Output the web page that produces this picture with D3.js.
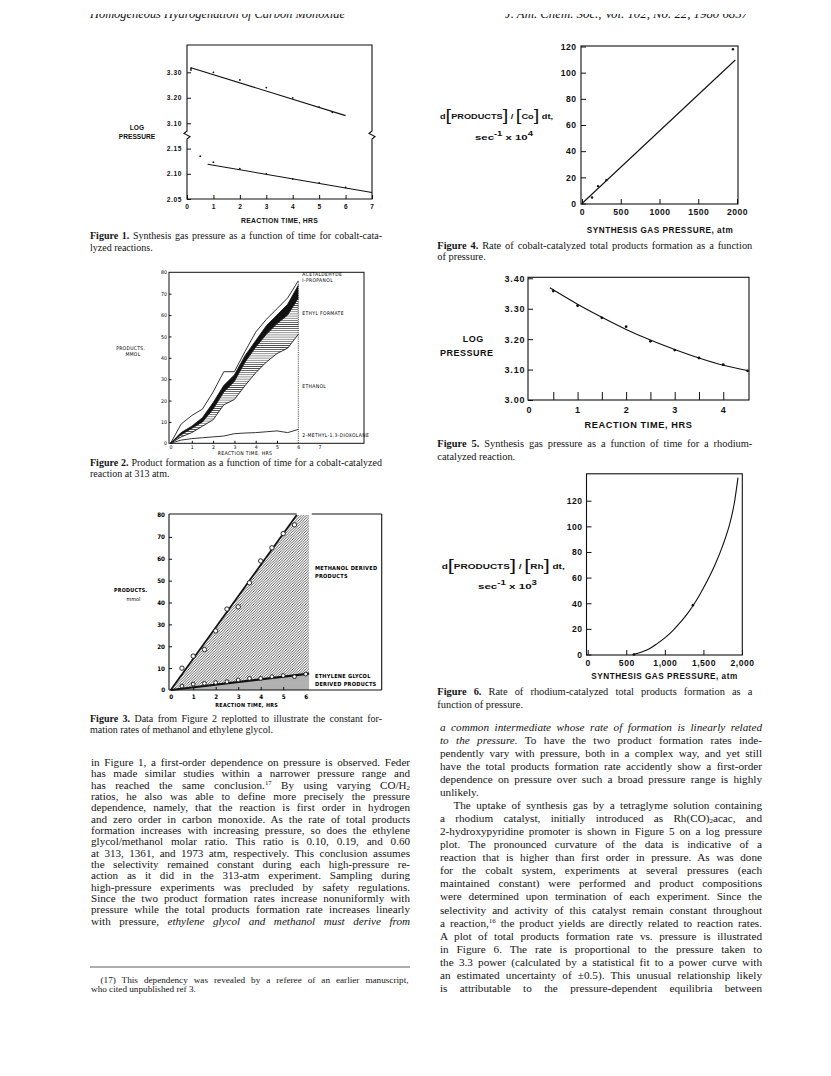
<!DOCTYPE html>
<html>
<head>
<meta charset="utf-8">
<script src="https://cdn.jsdelivr.net/npm/d3@7"></script>
<style>
  body { margin: 0; background: #fff; }
  svg { display: block; }
  .ax { font-family: "Liberation Sans", Arial, sans-serif; font-weight: bold; fill: #111; }
  .cond { font-family: "DejaVu Sans Condensed", "Liberation Sans Narrow", sans-serif; font-stretch: condensed; fill: #000; }
  .condb { font-family: "DejaVu Sans Condensed", "Liberation Sans Narrow", sans-serif; font-stretch: condensed; font-weight: bold; fill: #000; }
  .serif { font-family: "Liberation Serif", "Times New Roman", serif; fill: #141414; }
</style>
</head>
<body>
<svg id="page" width="831" height="1076"></svg>
<script>
// ---------- DATA ----------

// Figure 1: cobalt runs, log pressure vs reaction time (broken axis)
const fig1HighHours = [0.15, 0.15, 1, 2, 3, 4, 5, 5.5];
const fig1HighLogP = [3.316, 3.309, 3.300, 3.270, 3.240, 3.200, 3.163, 3.143];
const fig1HighFitHours = [0.15, 6];
const fig1HighFitLogP = [3.318, 3.130];
const fig1LowHours = [0.5, 1, 2, 3, 4, 5, 6];
const fig1LowLogP = [2.135, 2.123, 2.110, 2.100, 2.090, 2.082, 2.073];
const fig1LowFitHours = [0.78, 7];
const fig1LowFitLogP = [2.119, 2.063];
const fig1HourTicks = [0, 1, 2, 3, 4, 5, 6, 7];
const fig1HighTicks = [3.10, 3.20, 3.30];
const fig1LowTicks = [2.05, 2.10, 2.15];

// Figure 2: cumulative products, mmol (each series is the top of its band)
const fig2Hours = [0, 0.5, 1, 1.5, 2, 2.5, 3, 3.5, 4, 4.5, 5, 5.5, 6];
const fig2Dioxolane = [0, 1.5, 2.2, 2.6, 3, 3.4, 4.5, 4.8, 5, 5.4, 5.8, 5, 6.5];
const fig2Ethanol = [0, 3, 5, 8, 11, 18, 20.5, 27, 33, 38, 42, 44.5, 51];
const fig2EthylFormate = [0, 4, 7, 10, 16, 24, 29, 38, 45, 51, 56, 60, 68];
const fig2Propanol = [0, 5, 8, 12, 19, 27, 32, 41, 48, 55, 60, 65, 74];
const fig2Acetaldehyde = [0, 9, 13, 16, 24, 33.5, 33.5, 43, 52, 58, 63, 68, 76];
const fig2HourTicks = [0, 1, 2, 3, 4, 5, 6, 7];
const fig2MmolTicks = [0, 10, 20, 30, 40, 50, 60, 70, 80];
const fig2Labels = ["ACETALDEHYDE", "I-PROPANOL", "ETHYL FORMATE", "ETHANOL", "2-METHYL-1,3-DIOXOLANE"];
const fig2LabelMmol = [79, 76.3, 61, 26.5, 3.8];

// Figure 3: methanol- and ethylene glycol-derived products, mmol
const fig3Hours = [0.5, 1, 1.5, 2, 2.5, 3, 3.5, 4, 4.5, 5, 5.5];
const fig3Methanol = [10, 15.5, 18.5, 27, 37, 38, 49, 59, 65, 71.5, 75.5];
const fig3GlycolHours = [0.5, 1, 1.5, 2, 2.5, 3, 3.5, 4, 4.5, 5, 5.5, 6];
const fig3Glycol = [1.8, 2.7, 3, 3.4, 3.8, 4.6, 5.3, 5.3, 6.1, 6.6, 6.1, 7.3];
const fig3MethanolFit = [[0, 0], [5.6, 80]];
const fig3GlycolFit = [[0, 0], [6.15, 7.5]];
const fig3HourTicks = [0, 1, 2, 3, 4, 5, 6];
const fig3MmolTicks = [0, 10, 20, 30, 40, 50, 60, 70, 80];

// Figure 4: cobalt rate vs synthesis gas pressure
const fig4Pressure = [130, 206, 314, 1948];
const fig4Rate = [4.6, 13.3, 17.9, 117.9];
const fig4FitPressure = [0, 1978];
const fig4FitRate = [0, 109.7];
const fig4PressureTicks = [0, 500, 1000, 1500, 2000];
const fig4RateTicks = [0, 20, 40, 60, 80, 100, 120];

// Figure 5: rhodium run, log pressure vs reaction time
const fig5Hours = [0.5, 1, 1.5, 2, 2.5, 3, 3.5, 4, 4.5];
const fig5LogP = [3.358, 3.310, 3.270, 3.241, 3.193, 3.164, 3.138, 3.116, 3.096];
const fig5CurveHours = [0.43, 1, 1.5, 2, 2.5, 3, 3.5, 4, 4.5];
const fig5CurveLogP = [3.369, 3.315, 3.272, 3.232, 3.197, 3.166, 3.138, 3.114, 3.097];
const fig5HourTicks = [0, 1, 2, 3, 4];
const fig5HalfHourTicks = [0.5, 1, 1.5, 2, 2.5, 3, 3.5, 4];
const fig5LogTicks = [3.00, 3.10, 3.20, 3.30, 3.40];

// Figure 6: rhodium rate vs synthesis gas pressure
const fig6Pressure = [600, 1364];
const fig6Rate = [0, 38.5];
const fig6CurvePressure = [580, 700, 800, 900, 1000, 1100, 1200, 1300, 1364, 1450, 1550, 1650, 1750, 1850, 1900, 1948];
const fig6CurveRate = [0, 2, 4.5, 8.5, 13, 18.5, 25, 32.5, 38, 46.5, 57.5, 70, 85, 104, 118, 138];
const fig6PressureTicks = [0, 500, 1000, 1500, 2000];
const fig6RateTicks = [0, 20, 40, 60, 80, 100, 120];

// Page text
const headerLeft = "Homogeneous Hydrogenation of Carbon Monoxide";
const headerRight = "J. Am. Chem. Soc., Vol. 102, No. 22, 1980     6857";
const captions = {
  fig1: ["**Figure 1.** Synthesis gas pressure as a function of time for cobalt-cata-", "lyzed reactions."],
  fig2: ["**Figure 2.** Product formation as a function of time for a cobalt-catalyzed", "reaction at 313 atm."],
  fig3: ["**Figure 3.** Data from Figure 2 replotted to illustrate the constant for-", "mation rates of methanol and ethylene glycol."],
  fig4: ["**Figure 4.** Rate of cobalt-catalyzed total products formation as a function", "of pressure."],
  fig5: ["**Figure 5.** Synthesis gas pressure as a function of time for a rhodium-", "catalyzed reaction."],
  fig6: ["**Figure 6.** Rate of rhodium-catalyzed total products formation as a", "function of pressure."]
};
const leftBody = [
  "in Figure 1, a first-order dependence on pressure is observed. Feder",
  "has made similar studies within a narrower pressure range and",
  "has reached the same conclusion.^17^ By using varying CO/H_2_",
  "ratios, he also was able to define more precisely the pressure",
  "dependence, namely, that the reaction is first order in hydrogen",
  "and zero order in carbon monoxide. As the rate of total products",
  "formation increases with increasing pressure, so does the ethylene",
  "glycol/methanol molar ratio. This ratio is 0.10, 0.19, and 0.60",
  "at 313, 1361, and 1973 atm, respectively. This conclusion assumes",
  "the selectivity remained constant during each high-pressure re-",
  "action as it did in the 313-atm experiment. Sampling during",
  "high-pressure experiments was precluded by safety regulations.",
  "Since the two product formation rates increase nonuniformly with",
  "pressure while the total products formation rate increases linearly",
  "with pressure, *ethylene glycol and methanol must derive from*"
];
const footnote = [
  "(17) This dependency was revealed by a referee of an earlier manuscript,",
  "who cited unpublished ref 3."
];
// "~" marks a paragraph indent, "|" marks a paragraph's last (unjustified) line
const rightBody = [
  "*a common intermediate whose rate of formation is linearly related*",
  "*to the pressure.* To have the two product formation rates inde-",
  "pendently vary with pressure, both in a complex way, and yet still",
  "have the total products formation rate accidently show a first-order",
  "dependence on pressure over such a broad pressure range is highly",
  "|unlikely.",
  "~The uptake of synthesis gas by a tetraglyme solution containing",
  "a rhodium catalyst, initially introduced as Rh(CO)_2_acac, and",
  "2-hydroxypyridine promoter is shown in Figure 5 on a log pressure",
  "plot. The pronounced curvature of the data is indicative of a",
  "reaction that is higher than first order in pressure. As was done",
  "for the cobalt system, experiments at several pressures (each",
  "maintained constant) were performed and product compositions",
  "were determined upon termination of each experiment. Since the",
  "selectivity and activity of this catalyst remain constant throughout",
  "a reaction,^16^ the product yields are directly related to reaction rates.",
  "A plot of total products formation rate vs. pressure is illustrated",
  "in Figure 6. The rate is proportional to the pressure taken to",
  "the 3.3 power (calculated by a statistical fit to a power curve with",
  "an estimated uncertainty of ±0.5). This unusual relationship likely",
  "is attributable to the pressure-dependent equilibria between"
];


// ---------- PAGE ----------
const svg = d3.select("#page");
svg.append("rect").attr("width", 831).attr("height", 1076).attr("fill", "#fff");
const defs = svg.append("defs");

// hatch patterns used by figures 2 and 3
const hatchH = (id, size, sw, color) => {
  const p = defs.append("pattern").attr("id", id).attr("patternUnits", "userSpaceOnUse")
    .attr("width", 4).attr("height", size);
  p.append("line").attr("x1", 0).attr("y1", size / 2).attr("x2", 4).attr("y2", size / 2)
    .attr("stroke", color).attr("stroke-width", sw);
};
const hatchDiag = (id, size, sw, color) => {
  const s = size;
  const p = defs.append("pattern").attr("id", id).attr("patternUnits", "userSpaceOnUse")
    .attr("width", s).attr("height", s);
  p.append("path").attr("d", `M0,${s}L${s},0M${-s / 4},${s / 4}L${s / 4},${-s / 4}M${s * 0.75},${s * 1.25}L${s * 1.25},${s * 0.75}`)
    .attr("stroke", color).attr("stroke-width", sw).attr("stroke-linecap", "square");
};
hatchH("hzFormate", 2.1, 0.65, "#111");
hatchDiag("diagMeoh", 2.6, 0.75, "#2a2a2a");
hatchH("hzGlycol", 1.7, 0.65, "#222");

const ink = "#111";

const styleAxis = (g, size, cls) => {
  g.select(".domain").remove();
  g.attr("font-family", null).attr("font-size", null);
  g.selectAll("text").attr("class", cls).attr("font-size", size).attr("fill", ink);
  g.selectAll("line").attr("stroke", ink).attr("stroke-width", 1);
};

const label = (g, x, y, txt, size, cls, anchor = "middle") =>
  g.append("text").attr("class", cls).attr("x", x).attr("y", y)
    .attr("font-size", size).attr("text-anchor", anchor).text(txt);

const box = (g, x0, y0, x1, y1, sw = 1.1) =>
  g.append("rect").attr("x", x0).attr("y", y0).attr("width", x1 - x0).attr("height", y1 - y0)
    .attr("fill", "none").attr("stroke", ink).attr("stroke-width", sw);

const hline = (g, x0, x1, y, sw = 1.1) =>
  g.append("line").attr("x1", x0).attr("x2", x1).attr("y1", y).attr("y2", y).attr("stroke", ink).attr("stroke-width", sw);
const vline = (g, x, y0, y1, sw = 1.1) =>
  g.append("line").attr("x1", x).attr("x2", x).attr("y1", y0).attr("y2", y1).attr("stroke", ink).attr("stroke-width", sw);

const zip = (a, b) => a.map((d, i) => [d, b[i]]);
const intFmt = d3.format("d");


// ---------- TEXT HELPERS ----------
const parseRuns = (str) => str.split(/(\*\*[^*]+\*\*|\*[^*]+\*|\^[^^]+\^|_[^_]+_)/)
  .filter(s => s)
  .map(s => {
    if (s.startsWith("**")) return { t: s.slice(2, -2), b: true };
    if (s.startsWith("*")) return { t: s.slice(1, -1), i: true };
    if (s.startsWith("^")) return { t: s.slice(1, -1), sup: true };
    if (s.startsWith("_")) return { t: s.slice(1, -1), sub: true };
    return { t: s };
  });

const writeLine = (g, x, y, width, str, size, justify) => {
  const t = g.append("text").attr("class", "serif").attr("x", x).attr("y", y)
    .attr("font-size", size).attr("xml:space", "preserve");
  let shift = 0;
  const runs = parseRuns(str);
  runs.forEach(r => {
    const s = t.append("tspan").text(r.t);
    const target = r.sup ? -size * 0.34 : r.sub ? size * 0.1 : 0;
    if (target !== shift) { s.attr("dy", target - shift); shift = target; }
    if (r.sup || r.sub) s.attr("font-size", size * 0.62);
    if (r.i) s.attr("font-style", "italic");
    if (r.b) s.attr("font-weight", "bold");
  });
  if (justify) {
    const natural = t.node().getComputedTextLength();
    const spaces = (runs.map(r => r.t).join("").match(/ /g) || []).length;
    if (natural > width) {
      t.attr("textLength", width).attr("lengthAdjust", "spacingAndGlyphs");
    } else if (spaces) {
      t.attr("word-spacing", (width - natural) / spaces);
    }
  }
  return t;
};

const writeBlock = (g, lines, x, y0, step, width, size, justifyLast) => {
  lines.forEach((raw, i) => {
    let s = raw, dx = 0, just = true;
    if (s.startsWith("~")) { s = s.slice(1); dx = size * 1.2; }
    if (s.startsWith("|")) { s = s.slice(1); just = false; }
    if (i === lines.length - 1 && !justifyLast) just = false;
    writeLine(g, x + dx, y0 + i * step, width - dx, s, size, just);
  });
};

// header strip: only the lower part of the running heads survives the crop
const headClip = defs.append("clipPath").attr("id", "headClip");
headClip.append("rect").attr("x", 0).attr("y", 14).attr("width", 831).attr("height", 10);
const head = svg.append("g").attr("clip-path", "url(#headClip)");
head.append("text").attr("class", "serif").attr("x", 90).attr("y", 18.2).attr("font-size", 11.5)
  .attr("font-style", "italic").attr("textLength", 255).attr("lengthAdjust", "spacingAndGlyphs").text(headerLeft);
head.append("text").attr("class", "serif").attr("x", 505).attr("y", 18.2).attr("font-size", 11.5)
  .attr("font-style", "italic").attr("textLength", 243).attr("lengthAdjust", "spacingAndGlyphs").text(headerRight);


// ---------- F1: Figure 1 ----------
const drawFig1 = () => {
  const g = svg.append("g");
  const x = d3.scaleLinear().domain([0, 7]).range([187, 372]);
  const yHi = d3.scaleLinear().domain([3.05, 3.30]).range([136, 72.3]);
  const yLo = d3.scaleLinear().domain([2.05, 2.175]).range([199, 136]);
  const [L, R] = x.range(), B = yLo(2.05), T = 45, brk = yLo(2.175);

  // frame with zig-zag breaks on both vertical axes
  g.append("path")
    .attr("d", `M${L},${T}V${brk - 5}l-3,2.5l6,3l-3,2.5V${B}H${R}V${brk + 3}l3,-2.5l-6,-3l3,-2.5V${T}Z`)
    .attr("fill", "none").attr("stroke", ink).attr("stroke-width", 1.1);

  g.append("g").attr("transform", `translate(0,${B})`)
    .call(d3.axisBottom(x).tickValues(fig1HourTicks).tickSize(-4).tickPadding(5).tickFormat(intFmt))
    .call(a => styleAxis(a, 6.6, "ax"));
  g.append("g").attr("transform", `translate(${L},0)`)
    .call(d3.axisLeft(yHi).tickValues(fig1HighTicks).tickSize(-4).tickPadding(5).tickFormat(d3.format(".2f")))
    .call(a => styleAxis(a, 6.6, "ax"));
  g.append("g").attr("transform", `translate(${L},0)`)
    .call(d3.axisLeft(yLo).tickValues(fig1LowTicks).tickSize(-4).tickPadding(5).tickFormat(d3.format(".2f")))
    .call(a => styleAxis(a, 6.6, "ax"));
  g.selectAll(".tick text").attr("letter-spacing", 0.6);

  const lineHi = d3.line().x(d => x(d[0])).y(d => yHi(d[1]));
  const lineLo = d3.line().x(d => x(d[0])).y(d => yLo(d[1]));
  g.append("path").attr("d", lineHi(zip(fig1HighFitHours, fig1HighFitLogP)))
    .attr("stroke", ink).attr("stroke-width", 1.1).attr("fill", "none");
  g.append("path").attr("d", lineLo(zip(fig1LowFitHours, fig1LowFitLogP)))
    .attr("stroke", ink).attr("stroke-width", 1.1).attr("fill", "none");
  g.selectAll(".hi").data(zip(fig1HighHours, fig1HighLogP)).enter().append("circle")
    .attr("cx", d => x(d[0])).attr("cy", d => yHi(d[1])).attr("r", 0.9).attr("fill", ink);
  g.selectAll(".lo").data(zip(fig1LowHours, fig1LowLogP)).enter().append("circle")
    .attr("cx", d => x(d[0])).attr("cy", d => yLo(d[1])).attr("r", 0.9).attr("fill", ink);

  label(g, 137, 129.8, "LOG", 6.6, "ax");
  label(g, 137, 138.5, "PRESSURE", 6.6, "ax");
  label(g, 279.5, 223.2, "REACTION TIME, HRS", 6.8, "ax").attr("letter-spacing", 0.3);
};


// ---------- F2: Figure 2 ----------
const drawFig2 = () => {
  const g = svg.append("g");
  const x = d3.scaleLinear().domain([0, 7]).range([170.5, 319.6]);
  const y = d3.scaleLinear().domain([0, 80]).range([443.3, 272.3]);
  const L = 169, R = 364, T = 272.3, B = 443.3;

  const band = (lo, hi) => d3.area().x((d, i) => x(fig2Hours[i])).y0((d, i) => y(lo[i])).y1((d, i) => y(hi[i]))(fig2Hours);
  g.append("path").attr("d", band(fig2Ethanol, fig2EthylFormate)).attr("fill", "url(#hzFormate)");
  g.append("path").attr("d", band(fig2EthylFormate, fig2Propanol)).attr("fill", "#111");

  const line = d3.line().x((d, i) => x(fig2Hours[i])).y(d => y(d));
  [fig2Dioxolane, fig2Ethanol, fig2EthylFormate, fig2Propanol, fig2Acetaldehyde].forEach(s => {
    g.append("path").attr("d", line(s)).attr("fill", "none").attr("stroke", ink).attr("stroke-width", 0.85);
  });
  // dotted end-of-run marker at 6 h
  g.append("line").attr("x1", x(6)).attr("x2", x(6)).attr("y1", y(0)).attr("y2", y(fig2Acetaldehyde[fig2Acetaldehyde.length - 1]))
    .attr("stroke", ink).attr("stroke-width", 0.7).attr("stroke-dasharray", "1.2,1");

  box(g, L, T, R, B, 1);

  g.append("g").attr("transform", `translate(0,${B})`)
    .call(d3.axisBottom(x).tickValues(fig2HourTicks).tickSize(0).tickPadding(1.8).tickFormat(intFmt))
    .call(a => styleAxis(a, 5.2, "cond"));
  g.append("g").attr("transform", `translate(0,${B})`)
    .call(d3.axisBottom(x).tickValues(fig2HourTicks.slice(1, 6)).tickSize(-2.5).tickFormat(""))
    .call(a => styleAxis(a, 5.2, "cond"));
  g.append("g").attr("transform", `translate(${L},0)`)
    .call(d3.axisLeft(y).tickValues(fig2MmolTicks).tickSize(0).tickPadding(2).tickFormat(intFmt))
    .call(a => styleAxis(a, 5.2, "cond"));
  g.append("g").attr("transform", `translate(${L},0)`)
    .call(d3.axisLeft(y).tickValues(fig2MmolTicks.slice(1, 8)).tickSize(-2.5).tickFormat(""))
    .call(a => styleAxis(a, 5.2, "cond"));

  fig2Labels.forEach((t, i) => label(g, 302.3, y(fig2LabelMmol[i]) + 1.8, t, 5, "cond", "start").attr("letter-spacing", 0.35));
  label(g, 130.7, 349.8, "PRODUCTS.", 5, "cond").attr("letter-spacing", 0.3);
  label(g, 133, 356, "MMOL", 5, "cond").attr("letter-spacing", 0.3);
  label(g, 245, 455, "REACTION TIME, HRS", 5.1, "cond").attr("letter-spacing", 0.35);
};


// ---------- F3: Figure 3 ----------
const drawFig3 = () => {
  const g = svg.append("g");
  const x = d3.scaleLinear().domain([0, 6]).range([170.7, 305.7]);
  const y = d3.scaleLinear().domain([0, 80]).range([690, 515]);
  const L = 169, T = 514, B = 690, boxL = 311.7, R = 381.7;
  const edge = fig3GlycolFit[1][0];
  const top = y.domain()[1];
  const line = d3.line().x(d => x(d[0])).y(d => y(d[1]));

  // hatched bands: methanol-derived above the glycol line, glycol-derived below it
  g.append("path").attr("d", line([fig3MethanolFit[0], fig3MethanolFit[1], [edge, top], fig3GlycolFit[1]]) + "Z")
    .attr("fill", "url(#diagMeoh)");
  g.append("path").attr("d", line([fig3GlycolFit[0], fig3GlycolFit[1], [edge, 0]]) + "Z")
    .attr("fill", "url(#hzGlycol)");

  vline(g, L, T, B);
  hline(g, L, x(fig3MethanolFit[1][0]), T);
  hline(g, L, R, B);
  hline(g, boxL, R, T);
  vline(g, R, T, B);

  g.append("path").attr("d", line(fig3MethanolFit)).attr("stroke", ink).attr("stroke-width", 1.7).attr("fill", "none");
  g.append("path").attr("d", line(fig3GlycolFit)).attr("stroke", ink).attr("stroke-width", 2.2).attr("fill", "none");

  g.selectAll(".meoh").data(zip(fig3Hours, fig3Methanol)).enter().append("circle")
    .attr("cx", d => x(d[0])).attr("cy", d => y(d[1])).attr("r", 2.2)
    .attr("fill", "#fff").attr("stroke", ink).attr("stroke-width", 0.9);
  g.selectAll(".eg").data(zip(fig3GlycolHours, fig3Glycol)).enter().append("circle")
    .attr("cx", d => x(d[0])).attr("cy", d => y(d[1])).attr("r", 1.9)
    .attr("fill", "#fff").attr("stroke", ink).attr("stroke-width", 0.9);

  g.append("g").attr("transform", `translate(0,${B})`)
    .call(d3.axisBottom(x).tickValues(fig3HourTicks).tickSize(0).tickPadding(4.5).tickFormat(intFmt))
    .call(a => styleAxis(a, 6.2, "condb"));
  g.append("g").attr("transform", `translate(0,${B})`)
    .call(d3.axisBottom(x).tickValues(fig3HourTicks.slice(1, 6)).tickSize(-3).tickFormat(""))
    .call(a => styleAxis(a, 6.2, "condb"));
  g.append("g").attr("transform", `translate(${L},0)`)
    .call(d3.axisLeft(y).tickValues(fig3MmolTicks).tickSize(0).tickPadding(4).tickFormat(intFmt))
    .call(a => styleAxis(a, 6.2, "condb"));
  g.append("g").attr("transform", `translate(${L},0)`)
    .call(d3.axisLeft(y).tickValues(fig3MmolTicks.slice(1, 8)).tickSize(-3).tickFormat(""))
    .call(a => styleAxis(a, 6.2, "condb"));

  label(g, 315, 569.7, "METHANOL DERIVED", 5.6, "condb", "start").attr("letter-spacing", 0.25);
  label(g, 315, 578, "PRODUCTS", 5.6, "condb", "start").attr("letter-spacing", 0.25);
  label(g, 315, 678, "ETHYLENE GLYCOL", 5.6, "condb", "start").attr("letter-spacing", 0.25);
  label(g, 315, 686.3, "DERIVED PRODUCTS", 5.6, "condb", "start").attr("letter-spacing", 0.25);
  label(g, 130.7, 592, "PRODUCTS.", 5.4, "condb").attr("letter-spacing", 0.2);
  label(g, 133.5, 600.5, "mmol", 5.4, "cond");
  label(g, 246.7, 706.5, "REACTION TIME, HRS", 5.4, "condb").attr("letter-spacing", 0.3);
};


// rate axis title shared by figures 4 and 6
const rateTitle = (g, x, y, width, metal, exp, y2, x2, width2) => {
  const t = g.append("text").attr("class", "ax").attr("x", x).attr("y", y).attr("font-size", 7.8)
    .attr("textLength", width).attr("lengthAdjust", "spacingAndGlyphs");
  const br = (c) => t.append("tspan").attr("font-size", 17).attr("font-weight", "normal").attr("dy", 2.4).text(c);
  const wd = (c) => t.append("tspan").attr("dy", -2.4).text(c);
  t.append("tspan").text("d");
  br("["); wd("PRODUCTS"); br("]"); wd(" / "); br("["); wd(metal); br("]"); wd(" dt,");
  const s = g.append("text").attr("class", "ax").attr("x", x2).attr("y", y2).attr("font-size", 7.8)
    .attr("textLength", width2).attr("lengthAdjust", "spacingAndGlyphs");
  s.append("tspan").text("sec");
  s.append("tspan").attr("font-size", 6.5).attr("dy", -4).text("-1");
  s.append("tspan").attr("dy", 4).text(" x  10");
  s.append("tspan").attr("font-size", 6.5).attr("dy", -4).text(exp);
};


// ---------- F4: Figure 4 ----------
const drawFig4 = () => {
  const g = svg.append("g");
  const x = d3.scaleLinear().domain([0, 2000]).range([582, 737]);
  const y = d3.scaleLinear().domain([0, 120]).range([203.5, 46.5]);
  box(g, 581, 46, 738, 204);

  g.append("g").attr("transform", "translate(0,204)")
    .call(d3.axisBottom(x).tickValues(fig4PressureTicks).tickSize(-5).tickPadding(5).tickFormat(intFmt))
    .call(a => styleAxis(a, 8.6, "ax"));
  g.append("g").attr("transform", "translate(581,0)")
    .call(d3.axisLeft(y).tickValues(fig4RateTicks).tickSize(-5).tickPadding(4.5).tickFormat(intFmt))
    .call(a => styleAxis(a, 8.6, "ax"));
  g.selectAll(".tick text").attr("letter-spacing", 0.5);

  const line = d3.line().x(d => x(d[0])).y(d => y(d[1]));
  g.append("path").attr("d", line(zip(fig4FitPressure, fig4FitRate))).attr("stroke", ink).attr("stroke-width", 1.1).attr("fill", "none");
  g.selectAll(".pt").data(zip(fig4Pressure, fig4Rate)).enter().append("circle")
    .attr("cx", d => x(d[0])).attr("cy", d => y(d[1])).attr("r", 1.2).attr("fill", ink);

  rateTitle(g, 440, 118.5, 113, "Co", "4", 139.5, 475, 58);
  label(g, 660, 232.5, "SYNTHESIS GAS PRESSURE, atm", 8.2, "ax").attr("letter-spacing", 0.5);
};


// ---------- F5: Figure 5 ----------
const drawFig5 = () => {
  const g = svg.append("g");
  const x = d3.scaleLinear().domain([0, 4.53]).range([529, 749]);
  const y = d3.scaleLinear().domain([3.0, 3.4]).range([400, 278.3]);
  box(g, 528, 277.3, 749, 400);

  g.append("g").attr("transform", "translate(0,400)")
    .call(d3.axisBottom(x).tickValues(fig5HourTicks).tickSize(0).tickPadding(6.5).tickFormat(intFmt))
    .call(a => styleAxis(a, 9, "ax"));
  g.append("g").attr("transform", "translate(0,400)")
    .call(d3.axisBottom(x).tickValues(fig5HalfHourTicks).tickSize(-8).tickFormat(""))
    .call(a => styleAxis(a, 9, "ax"));
  g.append("g").attr("transform", "translate(528,0)")
    .call(d3.axisLeft(y).tickValues(fig5LogTicks).tickSize(-5).tickPadding(2.5).tickFormat(d3.format(".2f")))
    .call(a => styleAxis(a, 9, "ax"));
  g.selectAll(".tick text").attr("letter-spacing", 0.9);

  const curve = d3.line().curve(d3.curveMonotoneX).x(d => x(d[0])).y(d => y(d[1]));
  g.append("path").attr("d", curve(zip(fig5CurveHours, fig5CurveLogP))).attr("stroke", ink).attr("stroke-width", 1.1).attr("fill", "none");
  g.selectAll(".pt").data(zip(fig5Hours, fig5LogP)).enter().append("circle")
    .attr("cx", d => x(d[0])).attr("cy", d => y(d[1])).attr("r", 1.4).attr("fill", ink);

  label(g, 473.3, 342.2, "LOG", 9, "ax").attr("letter-spacing", 0.5);
  label(g, 466.7, 356, "PRESSURE", 9, "ax").attr("letter-spacing", 0.5);
  label(g, 638.5, 428.3, "REACTION TIME, HRS", 9.2, "ax").attr("letter-spacing", 0.6);
};


// ---------- F6: Figure 6 ----------
const drawFig6 = () => {
  const g = svg.append("g");
  const x = d3.scaleLinear().domain([0, 2000]).range([587.7, 742]);
  const y = d3.scaleLinear().domain([0, 141]).range([654.5, 473.8]);
  box(g, 586.5, 473.8, 742.3, 655);

  g.append("g").attr("transform", "translate(0,655)")
    .call(d3.axisBottom(x).tickValues(fig6PressureTicks).tickSize(-5).tickPadding(5).tickFormat(d3.format(",")))
    .call(a => styleAxis(a, 8.6, "ax"));
  g.append("g").attr("transform", "translate(586.5,0)")
    .call(d3.axisLeft(y).tickValues(fig6RateTicks).tickSize(-5).tickPadding(4).tickFormat(intFmt))
    .call(a => styleAxis(a, 8.6, "ax"));
  g.selectAll(".tick text").attr("letter-spacing", 0.5);

  const curve = d3.line().curve(d3.curveMonotoneX).x(d => x(d[0])).y(d => y(d[1]));
  g.append("path").attr("d", curve(zip(fig6CurvePressure, fig6CurveRate))).attr("stroke", ink).attr("stroke-width", 1.1).attr("fill", "none");
  g.selectAll(".pt").data(zip(fig6Pressure, fig6Rate)).enter().append("circle")
    .attr("cx", d => x(d[0])).attr("cy", d => y(d[1])).attr("r", 1.3).attr("fill", ink);

  rateTitle(g, 441.7, 568.5, 123, "Rh", "3", 588.5, 478, 59);
  label(g, 664.5, 679, "SYNTHESIS GAS PRESSURE, atm", 8.2, "ax").attr("letter-spacing", 0.5);
};


// ---------- F7: captions and running text ----------
const drawText = () => {
  const g = svg.append("g");
  writeBlock(g, captions.fig1, 90, 239.3, 11.4, 292, 10, false);
  writeBlock(g, captions.fig2, 90, 466, 10.6, 292, 10, false);
  writeBlock(g, captions.fig3, 90, 721.5, 11.2, 292, 10, false);
  writeBlock(g, captions.fig4, 437.3, 248.6, 11.2, 315, 10.4, false);
  writeBlock(g, captions.fig5, 437.3, 447.3, 12.6, 315, 10.4, false);
  writeBlock(g, captions.fig6, 437.3, 695, 12.6, 315, 10.4, false);

  writeBlock(g, leftBody, 91, 766, 11.33, 319, 11.1, true);
  g.append("line").attr("x1", 90).attr("x2", 410).attr("y1", 967).attr("y2", 967)
    .attr("stroke", "#333").attr("stroke-width", 0.8);
  writeBlock(g, [footnote[0]], 100.5, 982.8, 9.3, 308, 9.2, true);
  writeBlock(g, [footnote[1]], 91, 992.3, 9.3, 200, 9.2, false);

  writeBlock(g, rightBody, 440, 730.8, 13.05, 322, 11.2, true);
};

drawFig1();
drawFig2();
drawFig3();
drawFig4();
drawFig5();
drawFig6();
drawText();
</script>
</body>
</html>
